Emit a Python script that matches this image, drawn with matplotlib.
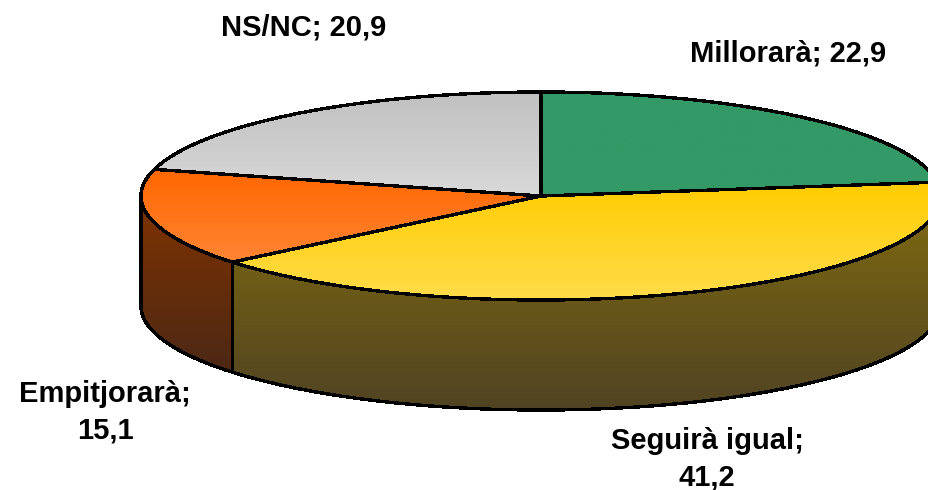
import numpy as np
import matplotlib
matplotlib.use('Agg')
import matplotlib.pyplot as plt
from matplotlib.colors import LinearSegmentedColormap
from matplotlib.patches import Polygon

plt.rcParams['font.family'] = ['Liberation Sans', 'DejaVu Sans']

labels = ['Millorarà', 'Seguirà igual', 'Empitjorarà', 'NS/NC']
values = [22.9, 41.2, 15.1, 20.9]
top_colors = [('#339966', '#339966'), ('#ffcc00', '#ffdc4a'),
              ('#ff6600', '#ff8533'), ('#c0c0c0', '#d9d9d9')]
side_colors = [('#1a4d33', '#1a4d33'), ('#806a10', '#504322'),
               ('#803300', '#4c2815'), ('#606060', '#606060')]
label_text = ['Millorarà; 22,9', 'Seguirà igual;\n41,2', 'Empitjorarà;\n15,1', 'NS/NC; 20,9']
label_pos = [(788, 53), (707, 459), (105, 412), (304, 27)]

cx, cy = 541, 196
rx, ry = 400, 104
depth = 110
edge = 1.7

fig = plt.figure(figsize=(9.29, 4.90), dpi=100)
ax = fig.add_axes([0, 0, 1, 1])
ax.set_xlim(0, 929)
ax.set_ylim(490, 0)
ax.axis('off')


def rim(a0, a1):
    t = np.radians(np.linspace(a0, a1, 200))
    return cx + rx * np.sin(t), cy - ry * np.cos(t)


def gradient(xy, colors, z):
    # vertical gradient clipped to the shape
    cmap = LinearSegmentedColormap.from_list('g', colors)
    y0, y1 = xy[:, 1].min(), xy[:, 1].max()
    im = ax.imshow(np.linspace(0, 1, 256)[:, None], cmap=cmap, aspect='auto',
                   extent=(xy[:, 0].min(), xy[:, 0].max(), y1, y0), zorder=z)
    poly = Polygon(xy, closed=True, fc='none', ec='k', lw=edge, joinstyle='round',
                   antialiased=False, zorder=z + 0.5)
    ax.add_patch(poly)
    im.set_clip_path(poly)


stops = np.cumsum([0] + values) / sum(values) * 360

# side walls, only the part of the rim facing the viewer
for i in range(len(values)):
    a0, a1 = max(stops[i], 90), min(stops[i + 1], 270)
    if a1 <= a0:
        continue
    x, y = rim(a0, a1)
    wall = np.r_[np.c_[x, y], np.c_[x, y + depth][::-1]]
    gradient(wall, side_colors[i], 2)

# top face
for i in range(len(values)):
    x, y = rim(stops[i], stops[i + 1])
    face = np.r_[[[cx, cy]], np.c_[x, y]]
    gradient(face, top_colors[i], 3)

for s, (x, y) in zip(label_text, label_pos):
    ax.text(x, y, s, ha='center', va='center', fontsize=21, fontweight='bold',
            color='k', linespacing=1.4, zorder=5)
ax.set_xlim(0, 929)
ax.set_ylim(490, 0)
fig.savefig('out.png', dpi=100, facecolor='white')
